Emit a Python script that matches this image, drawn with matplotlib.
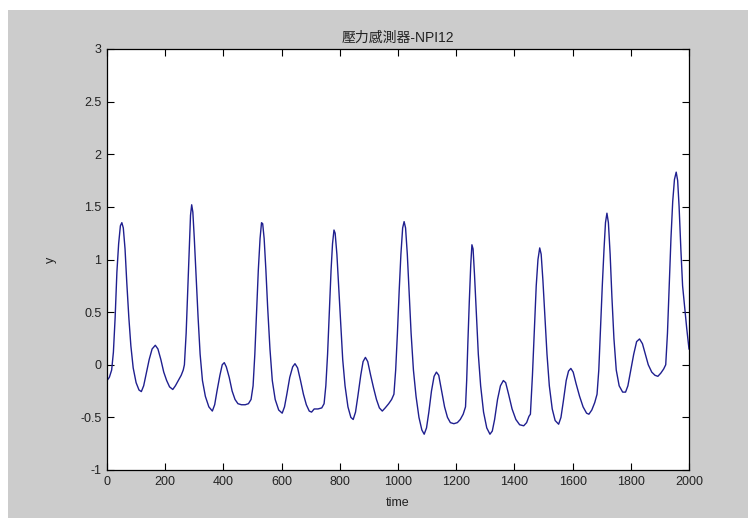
import matplotlib
matplotlib.use("Agg")
import matplotlib.pyplot as plt
from matplotlib.patches import Rectangle

# ---- data ----
time = [0, 8, 16, 22, 28, 34, 40, 46, 51, 56, 62, 68, 75, 82, 90, 100, 110, 118, 126, 135,
        145, 155, 166, 175, 185, 195, 205, 215, 226, 235, 245, 255, 262,
        266, 272, 278, 283, 287, 291, 295, 300, 306, 313, 320, 328, 338, 350, 362, 370, 378,
        388, 396, 403, 410, 420, 430, 440, 450, 462, 475, 486, 495,
        502, 508, 514, 520, 526, 531, 535, 540, 546, 552, 560, 568, 578, 590, 602, 610, 618,
        628, 638, 646, 655, 665, 675, 685, 695, 703, 712, 725, 738, 746,
        752, 758, 764, 770, 775, 780, 784, 790, 796, 803, 810, 818, 828, 838, 846, 854, 862,
        872, 880, 888, 896, 906, 916, 926, 936, 946, 956, 968, 978, 986,
        992, 998, 1004, 1010, 1016, 1021, 1026, 1032, 1038, 1045, 1053, 1062, 1072, 1082, 1090,
        1098, 1106, 1115, 1124, 1132, 1140, 1150, 1160, 1170, 1180, 1192, 1204, 1214, 1224, 1232,
        1236, 1240, 1245, 1250, 1254, 1258, 1263, 1269, 1276, 1284, 1294, 1305, 1316, 1324,
        1332, 1342, 1352, 1362, 1370, 1380, 1392, 1405, 1418, 1432, 1442, 1450,
        1455, 1462, 1468, 1475, 1481, 1487, 1492, 1498, 1505, 1512, 1520, 1530, 1540, 1552,
        1560, 1568, 1578, 1586, 1594, 1602, 1612, 1624, 1636, 1648, 1656, 1666, 1676, 1684,
        1690, 1696, 1702, 1708, 1713, 1718, 1723, 1729, 1735, 1742, 1750, 1760, 1772, 1782,
        1790, 1800, 1810, 1820, 1830, 1840, 1850, 1860, 1872, 1883, 1893, 1903, 1913, 1920,
        1926, 1932, 1938, 1944, 1950, 1956, 1961, 1966, 1972, 1978, 1985, 1992, 2000]

y = [-0.15, -0.12, -0.05, 0.12, 0.45, 0.88, 1.15, 1.32, 1.35, 1.3, 1.1, 0.78, 0.45, 0.18, -0.03, -0.17, -0.24, -0.255, -0.2, -0.08,
     0.05, 0.15, 0.185, 0.15, 0.05, -0.07, -0.15, -0.21, -0.235, -0.2, -0.15, -0.1, -0.05,
     0.0, 0.3, 0.75, 1.15, 1.42, 1.52, 1.45, 1.2, 0.85, 0.45, 0.1, -0.15, -0.3, -0.4, -0.44, -0.38, -0.25,
     -0.1, 0.0, 0.02, -0.02, -0.12, -0.25, -0.33, -0.37, -0.38, -0.38, -0.37, -0.33,
     -0.2, 0.1, 0.5, 0.9, 1.2, 1.35, 1.34, 1.2, 0.9, 0.55, 0.15, -0.15, -0.33, -0.43, -0.46, -0.4, -0.28,
     -0.12, -0.02, 0.01, -0.03, -0.15, -0.28, -0.38, -0.44, -0.45, -0.42, -0.42, -0.41, -0.37,
     -0.2, 0.1, 0.5, 0.9, 1.15, 1.28, 1.25, 1.05, 0.75, 0.4, 0.05, -0.2, -0.4, -0.5, -0.52, -0.45, -0.3,
     -0.1, 0.03, 0.07, 0.03, -0.1, -0.22, -0.33, -0.41, -0.44, -0.41, -0.37, -0.33, -0.28,
     -0.05, 0.3, 0.7, 1.05, 1.3, 1.36, 1.3, 1.05, 0.7, 0.3, -0.05, -0.3, -0.5, -0.62, -0.66,
     -0.6, -0.45, -0.25, -0.11, -0.07, -0.1, -0.25, -0.4, -0.5, -0.55, -0.56, -0.55, -0.52, -0.47, -0.4,
     -0.15, 0.2, 0.6, 0.95, 1.14, 1.1, 0.85, 0.5, 0.1, -0.2, -0.45, -0.6, -0.66, -0.63,
     -0.52, -0.33, -0.2, -0.15, -0.17, -0.28, -0.42, -0.52, -0.57, -0.58, -0.55, -0.49,
     -0.47, -0.1, 0.3, 0.75, 1.0, 1.11, 1.05, 0.8, 0.45, 0.1, -0.2, -0.42, -0.53, -0.565,
     -0.5, -0.35, -0.15, -0.06, -0.035, -0.07, -0.18, -0.3, -0.4, -0.46, -0.47, -0.43, -0.36, -0.28,
     -0.05, 0.35, 0.75, 1.1, 1.35, 1.44, 1.35, 1.05, 0.65, 0.25, -0.05, -0.2, -0.26, -0.26,
     -0.2, -0.05, 0.1, 0.22, 0.245, 0.2, 0.1, 0.0, -0.07, -0.1, -0.11, -0.08, -0.04, 0.0,
     0.3, 0.75, 1.2, 1.55, 1.76, 1.83, 1.75, 1.5, 1.1, 0.75, 0.55, 0.35, 0.15]

x_ticks = [0, 200, 400, 600, 800, 1000, 1200, 1400, 1600, 1800, 2000]
y_ticks = [-1, -0.5, 0, 0.5, 1, 1.5, 2, 2.5, 3]
y_tick_labels = ["-1", "-0.5", "0", "0.5", "1", "1.5", "2", "2.5", "3"]
title = "壓力感測器-NPI12"
xlabel = "time"
ylabel = "y"

# ---- figure ----
W, H = 748, 518
fig = plt.figure(figsize=(W / 100, H / 100), dpi=100, facecolor="white")
bg = Rectangle((8 / W, 0), 1 - 8 / W, 1 - 10 / H, transform=fig.transFigure,
               facecolor="#cccccc", edgecolor="none", zorder=-10)
fig.add_artist(bg)

ax = fig.add_axes([107 / W, (H - 470) / H, (689 - 107) / W, (470 - 49) / H])
ax.set_zorder(5)
ax.set_facecolor("white")
ax.plot(time, y, color="#1f1f8f", linewidth=1.0)

ax.set_xlim(0, 2000)
ax.set_ylim(-1, 3)
ax.set_xticks(x_ticks)
ax.set_yticks(y_ticks)
ax.set_yticklabels(y_tick_labels)

font = ["Liberation Sans", "Noto Sans CJK TC"]
ax.tick_params(direction="in", length=5, width=0.8, top=True, right=True,
               labelsize=9, colors="black", pad=4)
for lab in ax.get_xticklabels() + ax.get_yticklabels():
    lab.set_fontfamily(font)
    lab.set_color("#222222")
for s in ax.spines.values():
    s.set_linewidth(0.9)
    s.set_color("black")

ax.set_title(title, fontsize=10, family=font, color="#222222", pad=5)
ax.set_xlabel(xlabel, fontsize=9, family=font, color="#222222", labelpad=7)
ax.set_ylabel(ylabel, fontsize=9, family=font, color="#222222", labelpad=17)

fig.savefig("out.png", dpi=100, facecolor=fig.get_facecolor())
